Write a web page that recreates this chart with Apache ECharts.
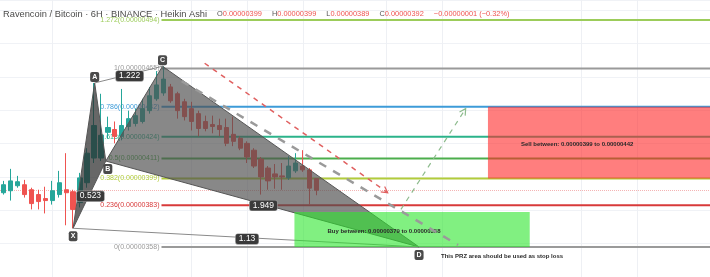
<!DOCTYPE html>
<html>
<head>
<meta charset="utf-8">
<script src="https://cdn.jsdelivr.net/npm/echarts@6/dist/echarts.min.js"></script>
<style>
  html, body { margin: 0; padding: 0; background: #fff; }
  #chart { width: 710px; height: 277px; }
</style>
</head>
<body>
<div id="chart"></div>
<script>
// prices are in units of 0.00000001 BTC (satoshi)
const barCount = 102;

// Heikin Ashi candles, one per 6H bar
const opens  = [390.5, 391.7, 394.7, 395.3, 392.3, 389.4, 387.0, 385.8, 389.4, 392.3,
                391.1, 384.6, 396.5, 411.3, 411.3, 426.7, 428.4, 424.3, 430.2, 432.0,
                433.2, 439.7, 446.8, 450.3, 453.9, 449.8, 445.0, 440.9, 437.9, 433.2,
                431.4, 430.8, 429.6, 425.5, 423.1, 420.1, 416.0, 410.7, 405.3, 401.8,
                400.6, 399.4, 403.6, 406.5, 404.2, 399];
const closes = [395.3, 397.6, 397.1, 389.4, 384.0, 385.2, 385.8, 391.7, 396.5, 390.5,
                380.5, 399.4, 414.2, 430.8, 424.9, 429.6, 424.3, 430.8, 434.9, 436.7,
                440.9, 448.6, 455.1, 458.6, 445.6, 439.7, 436.1, 433.2, 429.0, 429.0,
                430.2, 428.4, 420.1, 421.3, 417.2, 411.9, 406.5, 400.0, 397.6, 400.0,
                400.0, 406.5, 408.3, 404.2, 393.26, 392];
const lows   = [389.4, 385.8, 393.5, 387.6, 380.5, 380.5, 378.1, 383.4, 387.6, 371.0,
                369.2, 381.7, 393.5, 408.3, 409.5, 423.1, 420.1, 421.9, 427.8, 430.2,
                432.0, 437.9, 445.6, 448.6, 444.4, 434.9, 433.8, 427.8, 424.3, 427.3,
                426.1, 424.3, 418.4, 418.4, 416.0, 408.3, 405.3, 389.4, 392.3, 392.9,
                392.3, 398.2, 402.4, 403.0, 383.4, 389];
const highs  = [397.6, 404.8, 400.6, 398.2, 393.5, 392.3, 394.1, 397.6, 403.6, 414.2,
                392.3, 402.4, 417.2, 456.3, 449.8, 436.1, 433.2, 452.7, 439.7, 440.9,
                446.8, 453.9, 463.4, 466.3, 455.7, 451.0, 446.8, 445.0, 439.7, 436.7,
                436.7, 434.9, 434.9, 436.1, 424.3, 421.3, 417.2, 411.9, 406.5, 407.7,
                408.3, 412.4, 414.2, 416.0, 405.3, 399];

// Fibonacci retracement
const fibRatios = ['1.272', '1', '0.786', '0.618', '0.5', '0.382', '0.236', '0'];
const fibPrices = [494, 465, 442, 424, 411, 399, 383, 358];
const fibStartBar = 22.7;

// XABCD pattern
const pointNames  = ['X', 'A', 'B', 'C', 'D'];
const pointBars   = [10, 13.1, 14.7, 22.85, 59.7];
const pointPrices = [369.2, 456.3, 409.5, 466.3, 358];
const legRatios = ['1.222', '0.523', '1.949', '1.13'];
const legEnds   = [[1, 3], [0, 2], [2, 4], [0, 4]];

// zones: [fromBar, toBar, lowPrice, highPrice]
const buyZone  = [41.8, 75.6, 358, 379];
const sellZone = [69.6, 103, 399, 442];

// projection lines: [fromBar, fromPrice, toBar, toPrice]
const grayPath  = [25.6, 457.4, 65.3, 359.2];
const redPath   = [28.9, 468.1, 55.2, 390.5];
const greenPath = [57.1, 380.5, 66.4, 440.9];

const gridBars = [7, 27, 35, 43, 55, 63, 83, 91];

const fibColors = ['#9ccc5a', '#9a9a9a', '#3d9bd8', '#2bb38a', '#4cae4c', '#b2cc3a', '#d83a3a', '#9a9a9a'];
const upColor = '#26a69a';
const downColor = '#ef5350';
const labelFont = '"Liberation Sans", Arial, sans-serif';

const fmt = (p) => (p / 1e8).toFixed(8);

const last = opens.length - 1;
const change = closes[last] - closes[last - 1];
const sign = change < 0 ? '\u2212' : '+';
const changeText = sign + fmt(Math.abs(change)) + ' (' + sign + (Math.abs(change) / closes[last - 1] * 100).toFixed(2) + '%)';

const chart = echarts.init(document.getElementById('chart'));

const coordOf = (api, i) => api.coord([pointBars[i], pointPrices[i]]);

function dashedPath(path, color, width, dash, arrow) {
  return {
    type: 'custom',
    xAxisIndex: 1,
    yAxisIndex: 0,
    silent: true,
    z: 7,
    data: [[path[0], path[1], path[2], path[3]]],
    renderItem: (params, api) => {
      const a = api.coord([api.value(0), api.value(1)]);
      const b = api.coord([api.value(2), api.value(3)]);
      const children = [{
        type: 'line',
        shape: { x1: a[0], y1: a[1], x2: b[0], y2: b[1] },
        style: { stroke: color, lineWidth: width, lineDash: dash }
      }];
      if (arrow) {
        const ang = Math.atan2(b[1] - a[1], b[0] - a[0]);
        const len = 7;
        children.push({
          type: 'polyline',
          shape: {
            points: [
              [b[0] - len * Math.cos(ang - 0.5), b[1] - len * Math.sin(ang - 0.5)],
              [b[0], b[1]],
              [b[0] - len * Math.cos(ang + 0.5), b[1] - len * Math.sin(ang + 0.5)]
            ]
          },
          style: { stroke: color, lineWidth: 1.2, fill: null }
        });
      }
      return { type: 'group', children: children };
    }
  };
}

function zoneSeries(zone, fill, text) {
  return {
    type: 'custom',
    xAxisIndex: 1,
    yAxisIndex: 0,
    silent: true,
    z: 6,
    data: [zone],
    renderItem: (params, api) => {
      const tl = api.coord([api.value(0), api.value(3)]);
      const br = api.coord([api.value(1), api.value(2)]);
      return {
        type: 'group',
        children: [
          {
            type: 'rect',
            shape: { x: tl[0], y: tl[1], width: br[0] - tl[0], height: br[1] - tl[1] },
            style: { fill: fill }
          },
          {
            type: 'text',
            z2: 10,
            x: tl[0] + 33,
            y: (tl[1] + br[1]) / 2 + 2,
            style: { text: text, fill: '#2a2a2a', font: 'bold 6px ' + labelFont, verticalAlign: 'middle' }
          }
        ]
      };
    }
  };
}

const option = {
  animation: false,
  title: {
    left: 3,
    top: 5,
    padding: 0,
    text: '{n|Ravencoin / Bitcoin · 6H · BINANCE · Heikin Ashi}  ' +
      '{k|O}{v|' + fmt(opens[last]) + '}  {k|H}{v|' + fmt(highs[last]) + '}  ' +
      '{k|L}{v|' + fmt(lows[last]) + '}  {k|C}{v|' + fmt(closes[last]) + '}  ' +
      '{v|' + changeText + '}',
    textStyle: {
      fontWeight: 'normal',
      rich: {
        n: { fontSize: 9.3, color: '#4a4a4a', fontFamily: labelFont, fontWeight: 'normal', lineHeight: 12 },
        k: { fontSize: 7.4, color: '#555', fontFamily: labelFont, fontWeight: 'normal', lineHeight: 12 },
        v: { fontSize: 7.4, color: '#ef5350', fontFamily: labelFont, fontWeight: 'normal', lineHeight: 12 }
      }
    }
  },
  grid: { left: -2, top: 0, width: 712, height: 280.4 },
  xAxis: [
    {
      type: 'category',
      data: Array.from({ length: barCount }, (_, i) => String(i)),
      show: false
    },
    { type: 'value', min: -0.5, max: barCount - 0.5, show: false }
  ],
  yAxis: {
    type: 'value',
    min: 340,
    max: 506,
    interval: 20,
    axisLine: { show: false },
    axisTick: { show: false },
    axisLabel: { show: false },
    splitLine: { lineStyle: { color: '#f0f2f6', width: 1 } }
  },
  series: [
    {
      type: 'custom',
      xAxisIndex: 1,
      yAxisIndex: 0,
      silent: true,
      z: 2,
      data: fibPrices.map((p, i) => [fibStartBar, p, i]),
      renderItem: (params, api) => {
        const i = api.value(2);
        const p = api.coord([api.value(0), api.value(1)]);
        const right = params.coordSys.x + params.coordSys.width;
        return {
          type: 'group',
          children: [
            {
              type: 'line',
              shape: { x1: p[0], y1: p[1], x2: right, y2: p[1] },
              style: { stroke: fibColors[i], lineWidth: 2 }
            },
            {
              type: 'text',
              x: p[0] - 2,
              y: p[1],
              style: {
                text: fibRatios[i] + '(' + fmt(fibPrices[i]) + ')',
                fill: fibColors[i],
                font: '7px ' + labelFont,
                align: 'right',
                verticalAlign: 'middle'
              }
            }
          ]
        };
      }
    },
    {
      type: 'candlestick',
      xAxisIndex: 0,
      yAxisIndex: 0,
      z: 3,
      silent: true,
      barWidth: '68%',
      data: opens.map((o, i) => [o, closes[i], lows[i], highs[i]]),
      itemStyle: { color: upColor, color0: downColor, borderColor: upColor, borderColor0: downColor, borderWidth: 1 },
      markLine: {
        z: 1,
        silent: true,
        symbol: ['none', 'none'],
        label: { show: false },
        data: gridBars.map((b) => ({ xAxis: b, lineStyle: { color: '#eef0f4', width: 1, type: 'solid' } }))
          .concat([{ yAxis: closes[last], lineStyle: { color: '#f4b4b4', width: 1, type: 'dotted' } }])
      }
    },
    {
      type: 'custom',
      xAxisIndex: 1,
      yAxisIndex: 0,
      silent: true,
      z: 4,
      data: [[0], [1]],
      renderItem: (params, api) => {
        const tri = params.dataIndex === 0 ? [0, 1, 2] : [2, 3, 4];
        return {
          type: 'polygon',
          shape: { points: tri.map((k) => coordOf(api, k)) },
          style: {
            fill: params.dataIndex === 0 ? 'rgba(45,45,45,0.72)' : 'rgba(80,80,80,0.68)',
            stroke: '#555',
            lineWidth: 1
          }
        };
      }
    },
    {
      type: 'custom',
      xAxisIndex: 1,
      yAxisIndex: 0,
      silent: true,
      z: 5,
      data: [[0], [3]],
      renderItem: (params, api) => {
        const e = legEnds[api.value(0)];
        const a = coordOf(api, e[0]);
        const b = coordOf(api, e[1]);
        return {
          type: 'line',
          shape: { x1: a[0], y1: a[1], x2: b[0], y2: b[1] },
          style: { stroke: '#8a8a8a', lineWidth: 1 }
        };
      }
    },
    zoneSeries(sellZone, 'rgba(255,40,40,0.6)',
      'Sell between: ' + fmt(sellZone[2]) + ' to ' + fmt(sellZone[3])),
    zoneSeries(buyZone, 'rgba(45,230,45,0.6)',
      'Buy between: ' + fmt(buyZone[3]) + ' to ' + fmt(buyZone[2])),
    dashedPath(grayPath, '#9a9a9a', 2.5, [8, 8], false),
    dashedPath(redPath, '#e06060', 1.5, [5, 5], true),
    dashedPath(greenPath, '#8dbb8d', 1.2, [5, 5], true),
    {
      type: 'custom',
      xAxisIndex: 1,
      yAxisIndex: 0,
      silent: true,
      z: 9,
      data: pointNames.map((n, i) => [i]),
      renderItem: (params, api) => {
        const i = api.value(0);
        const p = coordOf(api, i);
        const below = pointNames[i] === 'X' || pointNames[i] === 'B' || pointNames[i] === 'D';
        const children = [{
          type: 'text',
          x: p[0] + (pointNames[i] === 'B' ? 2 : 0),
          y: p[1] + (below ? 8 : -6),
          style: {
            text: pointNames[i],
            fill: '#fff',
            font: 'bold 7px ' + labelFont,
            align: 'center',
            verticalAlign: 'middle',
            backgroundColor: '#4a4a4a',
            padding: [2, 2, 1, 2],
            borderRadius: 2
          }
        }];
        if (pointNames[i] === 'D') {
          children.push({
            type: 'text',
            x: p[0] + 22,
            y: p[1] + 9,
            style: {
              text: 'This PRZ area should be used as stop loss',
              fill: '#2a2a2a',
              font: 'bold 6px ' + labelFont,
              verticalAlign: 'middle'
            }
          });
        }
        return { type: 'group', children: children };
      }
    },
    {
      type: 'custom',
      xAxisIndex: 1,
      yAxisIndex: 0,
      silent: true,
      z: 9,
      data: legRatios.map((r, i) => [i]),
      renderItem: (params, api) => {
        const i = api.value(0);
        const a = coordOf(api, legEnds[i][0]);
        const b = coordOf(api, legEnds[i][1]);
        return {
          type: 'text',
          x: (a[0] + b[0]) / 2 + 1,
          y: (a[1] + b[1]) / 2 + 1.5,
          style: {
            text: legRatios[i],
            fill: '#fff',
            font: '8.5px ' + labelFont,
            align: 'center',
            verticalAlign: 'middle',
            backgroundColor: '#3a3a3a',
            borderColor: '#9a9a9a',
            borderWidth: 0.6,
            padding: [1, 3, 0, 3],
            borderRadius: 2
          }
        };
      }
    }
  ]
};

chart.setOption(option);
</script>
</body>
</html>
